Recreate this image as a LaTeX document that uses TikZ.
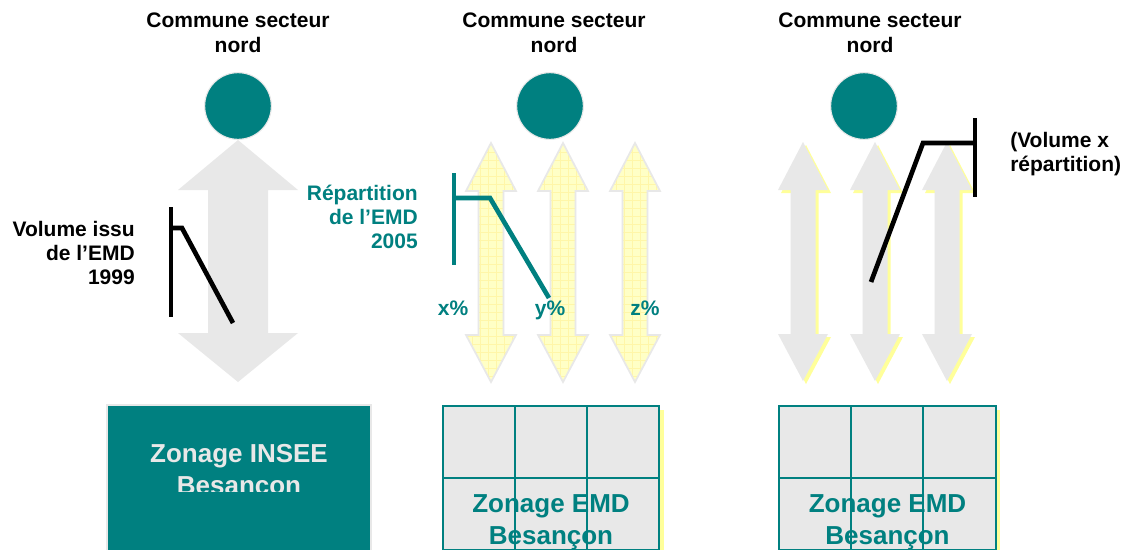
\documentclass[tikz,border=0pt]{standalone}
\usepackage{fontspec}
\setmainfont{Liberation Sans}
\definecolor{emdteal}{HTML}{008080}
\definecolor{lgray}{HTML}{E8E8E8}
\definecolor{lyellow}{HTML}{FFFFC6}
\definecolor{gridyellow}{HTML}{FFF6A8}
\definecolor{shadeyellow}{HTML}{FFFF9A}
\newcommand{\dblarr}[3][]{\path[#1] (#2,#3) -- ++(25,48) -- ++(-12.5,0) -- ++(0,144) -- ++(12.5,0) -- ++(-25,47) -- ++(-25,-47) -- ++(12.5,0) -- ++(0,-144) -- ++(-12.5,0) -- cycle;}
\tikzset{
  title/.style={font=\bfseries\fontsize{15.75}{18.75}\selectfont, align=center, inner sep=0, anchor=north},
  side/.style={font=\bfseries\fontsize{15.75}{18}\selectfont, inner sep=0},
  big/.style={font=\bfseries\fontsize{19.5}{24}\selectfont, align=center, inner sep=0, anchor=north},
  commune/.style={circle, fill=emdteal, draw=lgray, line width=0.8pt, minimum size=50pt, inner sep=0},
  bracket/.style={line width=3.5pt},
  grayarr/.style={fill=lgray},
  yelarr/.style={fill=lyellow, draw=lgray, line width=1.3pt,
     path picture={\draw[gridyellow, line width=0.3pt] (path picture bounding box.south west) grid[step=6pt] (path picture bounding box.north east);}},
  shadowarr/.style={fill=shadeyellow},
  gridline/.style={draw=emdteal, line width=1.1pt},
  pct/.style={font=\bfseries\fontsize{15.75}{18}\selectfont, text=emdteal, inner sep=0, anchor=base},
}
\begin{document}
\begin{tikzpicture}[x=0.75pt,y=-0.75pt]
\useasboundingbox (0,0) rectangle (1125,550);
\clip (0,0) rectangle (1125,550);
\fill[white] (0,0) rectangle (1125,550);

% ---------- Panel 1 ----------
\node[title] (t1) at (238,12.6) {Commune secteur\\nord};
\path[grayarr] (238,140) -- (298,190) -- (268,190) -- (268,333) -- (298,333) -- (238,382) -- (178,333) -- (208,333) -- (208,190) -- (178,190) -- cycle;
\node[commune] (c1) at (238,106) {};
\coordinate (b1t) at (171,207);
\coordinate (b1b) at (171,317);
\coordinate (b1h) at (171,228);
\coordinate (b1k) at (182,228);
\coordinate (b1e) at (233,323);
\draw[bracket] (b1t) -- (b1b);
\draw[bracket, line join=miter] (b1h) -- (b1k) -- (b1e);
\node[side, align=right, anchor=north east] (v1) at (135,221) {Volume issu\\de l’EMD\\1999};
\path[fill=emdteal, draw=lgray, line width=1pt] (107,405) rectangle (371,560);
\begin{scope}
  \clip (107,405) rectangle (371,491);
  \node[big, text=lgray] (z1) at (239,444.4) {Zonage INSEE\\Besançon};
\end{scope}

% ---------- Panel 2 ----------
\node[title] (t2) at (554,12.6) {Commune secteur\\nord};
\node[commune] (c2) at (550,106) {};
\dblarr[yelarr]{491}{143}
\dblarr[yelarr]{563}{143}
\dblarr[yelarr]{635}{143}
\coordinate (b2t) at (454,173);
\coordinate (b2b) at (454,265);
\coordinate (b2h) at (454,198);
\coordinate (b2k) at (490,198);
\coordinate (b2e) at (549,298);
\draw[bracket, emdteal] (b2t) -- (b2b);
\draw[bracket, emdteal, line join=miter] (b2h) -- (b2k) -- (b2e);
\node[side, align=right, anchor=north east, text=emdteal] (r2) at (418,185) {Répartition\\de l’EMD\\2005};
\node[pct] (px) at (453,315) {x\%};
\node[pct] (py) at (550,315) {y\%};
\node[pct] (pz) at (645,315) {z\%};
\fill[shadeyellow] (447,410) rectangle (664,560);
\path[fill=lgray] (443,406) rectangle (659,560);
\draw[gridline] (443,560) -- (443,406) -- (659,406) -- (659,560);
\draw[gridline] (515,406) -- (515,560) (587,406) -- (587,560) (443,478) -- (659,478);
\draw[gridline] (443,549.5) -- (659,549.5);
\node[big, text=emdteal] (z2) at (551,494) {Zonage EMD\\Besançon};

% ---------- Panel 3 ----------
\node[title] (t3) at (870,12.6) {Commune secteur\\nord};
\node[commune] (c3) at (864,106) {};
\foreach \cx in {803,875,947}{
  \dblarr[shadowarr]{\cx+3}{145}
  \dblarr[grayarr]{\cx}{142}
}
\coordinate (b3t) at (975,118);
\coordinate (b3b) at (975,197);
\coordinate (b3h) at (975,143);
\coordinate (b3k) at (923,143);
\coordinate (b3e) at (871,282);
\draw[bracket] (b3t) -- (b3b);
\draw[bracket, line join=miter] (b3h) -- (b3k) -- (b3e);
\node[side, align=left, anchor=north west] (v3) at (1010,132.5) {(Volume x\\répartition)};
\fill[shadeyellow] (783,410) rectangle (1000,560);
\path[fill=lgray] (779,406) rectangle (996,560);
\draw[gridline] (779,560) -- (779,406) -- (996,406) -- (996,560);
\draw[gridline] (851,406) -- (851,560) (923,406) -- (923,560) (779,478) -- (996,478);
\draw[gridline] (779,549.5) -- (996,549.5);
\node[big, text=emdteal] (z3) at (887.5,494) {Zonage EMD\\Besançon};
\end{tikzpicture}
\end{document}
